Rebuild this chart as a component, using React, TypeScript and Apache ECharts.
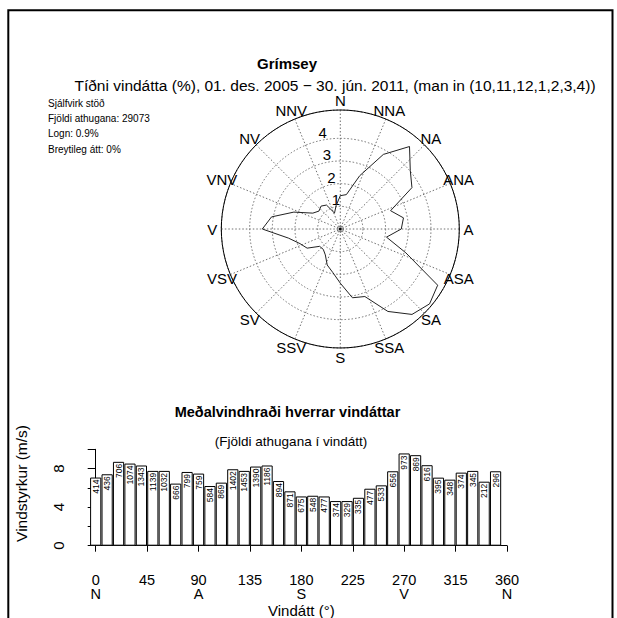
import React, { useEffect, useRef } from "react";
import * as echarts from "echarts";

// ---- Data ----
const directionsDeg = [
  0, 10, 20, 30, 40, 50, 60, 70, 80, 90, 100, 110, 120, 130, 140, 150, 160, 170,
  180, 190, 200, 210, 220, 230, 240, 250, 260, 270, 280, 290, 300, 310, 320, 330, 340, 350,
];
const observationCounts = [
  414, 436, 706, 1074, 1343, 1139, 1032, 666, 799, 759, 584, 869, 1402, 1453, 1390, 1186, 894, 871,
  675, 548, 477, 374, 329, 335, 477, 533, 656, 973, 869, 616, 395, 348, 374, 345, 212, 296,
];
const meanSpeed = [
  7.07, 7.41, 8.7, 8.52, 8.32, 7.76, 7.76, 6.44, 7.65, 7.48, 6.19, 6.54, 7.93, 7.76, 8.21, 8.32, 6.71, 5.64,
  5.11, 5.18, 5.11, 4.63, 4.63, 4.97, 5.91, 6.26, 7.72, 9.57, 9.39, 8.35, 7.06, 6.85, 7.58, 7.76, 6.64, 7.72,
];
const frequencyPct = [
  1.47, 1.54, 2.5, 3.8, 4.75, 4.03, 3.65, 2.36, 2.83, 2.69, 2.07, 3.08, 4.96, 5.14, 4.92, 4.2, 3.17, 3.08,
  2.39, 1.94, 1.69, 1.32, 1.17, 1.19, 1.69, 1.89, 2.32, 3.44, 3.08, 2.18, 1.4, 1.23, 1.32, 1.22, 0.75, 1.05,
];
const compassLabels = [
  "N", "NNA", "NA", "ANA", "A", "ASA", "SA", "SSA", "S", "SSV", "SV", "VSV", "V", "VNV", "NV", "NNV",
];
const compassDeg = [
  0, 22.5, 45, 67.5, 90, 112.5, 135, 157.5, 180, 202.5, 225, 247.5, 270, 292.5, 315, 337.5,
];
const xTickLetters = ["N", "", "A", "", "S", "", "V", "", "N"];
const radiusTickLabels = [1, 2, 3, 4];
const speedTickLabels = [0, 4, 8];
const infoLines = ["Sjálfvirk stöð", "Fjöldi athugana: 29073", "Logn: 0.9%", "Breytileg átt: 0%"];

const FONT = "Liberation Sans, Arial, Helvetica, sans-serif";
const CX = 340.3;
const CY = 229;
const R = 119;
const RMAX = 5.25;
const LABEL_RADIUS = RMAX * 1.077; // compass names sit just outside the rim

export default function App() {
  const ref = useRef<HTMLDivElement>(null);

  useEffect(() => {
    if (!ref.current) return;
    const chart = echarts.init(ref.current, null, { renderer: "svg" });

    const rosePoints = directionsDeg.map((d, i) => [frequencyPct[i], d]);
    rosePoints.push([frequencyPct[0], 360]);

    const gridDot = { color: "#707070", type: [1.5, 2] as number[], width: 1 };

    const option: any = {
      animation: false,
      backgroundColor: "#fff",
      textStyle: { fontFamily: FONT },
      polar: [
        { center: [CX, CY], radius: R },
        { center: [CX, CY], radius: R },
      ],
      angleAxis: [
        {
          polarIndex: 0,
          type: "value",
          min: 0,
          max: 360,
          interval: 22.5,
          startAngle: 90,
          clockwise: true,
          axisLine: { show: true, lineStyle: { color: "#000", width: 1 } },
          axisTick: { show: false },
          axisLabel: { show: false },
          splitLine: { show: true, lineStyle: gridDot },
        },
        {
          polarIndex: 1,
          type: "value",
          min: 0,
          max: 360,
          startAngle: 101.25,
          axisLine: { show: false },
          axisTick: { show: false },
          axisLabel: { show: false },
          splitLine: { show: false },
        },
      ],
      radiusAxis: [
        {
          polarIndex: 0,
          type: "value",
          min: 0,
          max: RMAX,
          interval: 1,
          axisLine: { show: false },
          axisTick: { show: false },
          axisLabel: { show: false },
          splitLine: {
            show: true,
            lineStyle: {
              color: ["#707070", "#707070", "#707070", "#707070", "#707070", "rgba(0,0,0,0)"],
              type: [1.5, 2],
              width: 1,
            },
          },
        },
        {
          polarIndex: 1,
          type: "value",
          min: 0,
          max: RMAX,
          interval: 1,
          axisLine: { show: false },
          axisTick: { show: false },
          splitLine: { show: false },
          axisLabel: {
            show: true,
            margin: 0,
            align: "center",
            verticalAlign: "bottom",
            fontSize: 15,
            color: "#000",
            fontFamily: FONT,
            formatter: (v: number) => (radiusTickLabels.includes(v) ? String(v) : ""),
          },
        },
      ],
      grid: { left: 95.7, right: 110, top: 449.3, height: 96.4 },
      xAxis: {
        type: "value",
        min: 0,
        max: 360,
        interval: 45,
        offset: 6,
        axisLine: { show: true, lineStyle: { color: "#000", width: 1 } },
        axisTick: { show: true, length: 6, lineStyle: { color: "#000" } },
        splitLine: { show: false },
        axisLabel: {
          fontSize: 14.5,
          lineHeight: 14.5,
          color: "#000",
          fontFamily: FONT,
          margin: 21,
          formatter: (v: number) => `${v}\n${xTickLetters[Math.round(v / 45)] ?? ""}`,
        },
        name: "Vindátt (°)",
        nameLocation: "middle",
        nameGap: 49,
        nameTextStyle: { fontSize: 15, color: "#000", fontFamily: FONT },
      },
      yAxis: {
        type: "value",
        min: 0,
        max: 10,
        interval: 2,
        offset: 10.7,
        axisLine: { show: true, lineStyle: { color: "#000", width: 1 } },
        axisTick: { show: true, length: 8, lineStyle: { color: "#000" } },
        splitLine: { show: false },
        axisLabel: {
          rotate: 90,
          fontSize: 15,
          color: "#000",
          fontFamily: FONT,
          margin: 19,
          formatter: (v: number) => (speedTickLabels.includes(v) ? String(v) : ""),
        },
        name: "Vindstyrkur (m/s)",
        nameLocation: "middle",
        nameRotate: 90,
        nameGap: 56,
        nameTextStyle: { fontSize: 15.5, color: "#000", fontFamily: FONT, padding: [0, 0, 0, 28] },
      },
      series: [
        {
          type: "line",
          coordinateSystem: "polar",
          polarIndex: 0,
          data: rosePoints,
          symbol: "none",
          lineStyle: { color: "#222", width: 1 },
          z: 5,
        },
        {
          type: "scatter",
          coordinateSystem: "polar",
          polarIndex: 0,
          data: compassDeg.map((d) => [LABEL_RADIUS, d]),
          symbol: "circle",
          symbolSize: 1,
          clip: false,
          itemStyle: { color: "rgba(0,0,0,0)", opacity: 1 },
          silent: true,
          label: {
            show: true,
            position: "inside",
            fontSize: 15,
            color: "#000",
            opacity: 1,
            fontFamily: FONT,
            textBorderWidth: 0,
            formatter: (p: any) => compassLabels[p.dataIndex],
          },
          z: 6,
        },
        {
          type: "bar",
          data: directionsDeg.map((d, i) => [d, meanSpeed[i]]),
          barWidth: 11.2,
          clip: false,
          itemStyle: { color: "#fff", borderColor: "#000", borderWidth: 1 },
          label: {
            show: true,
            position: "insideTop",
            distance: 2,
            rotate: 90,
            align: "right",
            verticalAlign: "middle",
            fontSize: 8.5,
            color: "#000",
            textBorderWidth: 0,
            textBorderColor: "transparent",
            fontFamily: FONT,
            formatter: (p: any) => String(observationCounts[p.dataIndex]),
          },
        },
      ],
      graphic: [
        {
          type: "polyline",
          shape: { points: [[8.3, 640], [8.3, 10.3], [612.5, 10.3], [612.5, 640]] },
          style: { stroke: "#000", lineWidth: 2, fill: "none" },
        },
        {
          type: "circle",
          shape: { cx: CX, cy: CY, r: 3.2 },
          style: { stroke: "#555", lineWidth: 1, fill: "none", lineDash: [1, 1] },
          z: 10,
        },
        {
          type: "circle",
          shape: { cx: CX, cy: CY, r: 1.5 },
          style: { fill: "#000" },
          z: 10,
        },
        {
          type: "text",
          x: 287,
          y: 63,
          style: { text: "Grímsey", font: `bold 15px ${FONT}`, fill: "#000", align: "center", verticalAlign: "middle" },
        },
        {
          type: "text",
          x: 335,
          y: 85,
          style: {
            text: "Tíðni vindátta (%), 01. des. 2005 − 30. jún. 2011, (man in (10,11,12,1,2,3,4))",
            font: `15.5px ${FONT}`,
            fill: "#000",
            align: "center",
            verticalAlign: "middle",
          },
        },
        ...infoLines.map((t, i) => ({
          type: "text",
          x: 48,
          y: 103 + i * 15.4,
          style: { text: t, font: `10px ${FONT}`, fill: "#000", align: "left", verticalAlign: "middle" },
        })),
        {
          type: "text",
          x: 287.5,
          y: 411.7,
          style: {
            text: "Meðalvindhraði hverrar vindáttar",
            font: `bold 14.5px ${FONT}`,
            fill: "#000",
            align: "center",
            verticalAlign: "middle",
          },
        },
        {
          type: "text",
          x: 291,
          y: 441.7,
          style: {
            text: "(Fjöldi athugana í vindátt)",
            font: `13.5px ${FONT}`,
            fill: "#000",
            align: "center",
            verticalAlign: "middle",
          },
        },
      ],
    };

    chart.setOption(option);
    return () => chart.dispose();
  }, []);

  return (
    <div
      ref={ref}
      style={{ position: "absolute", left: 0, top: 0, width: 617, height: 640, background: "#fff" }}
    />
  );
}
